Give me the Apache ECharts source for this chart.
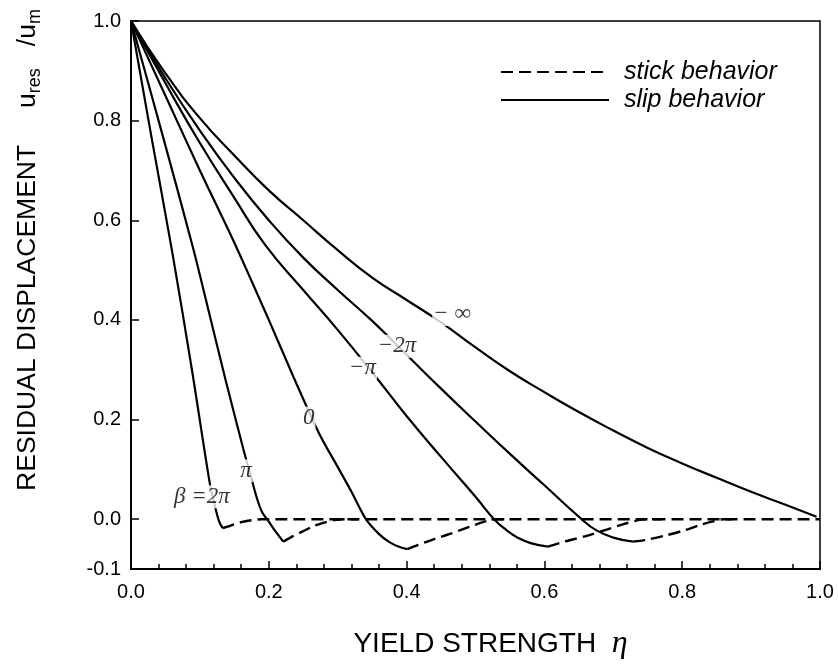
<!DOCTYPE html>
<html>
<head>
<meta charset="utf-8">
<script src="https://cdn.jsdelivr.net/npm/echarts@6/dist/echarts.min.js"></script>
<style>html,body{margin:0;padding:0;background:#fff}#c{width:838px;height:665px}</style>
</head>
<body>
<div id="c"></div>
<script>
// ---- data ----
const xTicks = [0.0, 0.2, 0.4, 0.6, 0.8, 1.0];
const yTicks = [-0.1, 0.0, 0.2, 0.4, 0.6, 0.8, 1.0];

// beta = 2pi
const slip2piX = [0, 0.03, 0.06, 0.089, 0.114, 0.122, 0.128, 0.133];
const slip2piY = [1, 0.765, 0.535, 0.295, 0.075, 0.025, -0.005, -0.018];
const stick2piX = [0.133, 0.14, 0.15, 0.16, 0.175, 0.19, 1.0];
const stick2piY = [-0.018, -0.015, -0.01, -0.006, -0.002, 0, 0];
// beta = pi
const slipPiX = [0, 0.045, 0.09, 0.115, 0.137, 0.163, 0.176, 0.183, 0.19, 0.2, 0.21, 0.221];
const slipPiY = [1, 0.775, 0.545, 0.405, 0.281, 0.141, 0.075, 0.041, 0.015, -0.005, -0.025, -0.045];
const stickPiX = [0.221, 0.235, 0.25, 0.265, 0.28, 0.295, 0.31, 0.33];
const stickPiY = [-0.045, -0.034, -0.024, -0.014, -0.007, -0.002, 0, 0];
// beta = 0
const slip0X = [0, 0.05, 0.1, 0.15, 0.2, 0.236, 0.273, 0.3, 0.32, 0.341, 0.36, 0.375, 0.39, 0.401];
const slip0Y = [1, 0.85, 0.70, 0.555, 0.40, 0.285, 0.172, 0.105, 0.055, 0.0, -0.03, -0.046, -0.056, -0.06];
const stick0X = [0.401, 0.416, 0.44, 0.464, 0.49, 0.513, 0.53, 0.55];
const stick0Y = [-0.06, -0.052, -0.04, -0.029, -0.016, -0.005, 0, 0];
// beta = -pi
const slipMPiX = [0, 0.05, 0.1, 0.15, 0.195, 0.25, 0.3, 0.358, 0.4, 0.45, 0.5, 0.527, 0.545, 0.561, 0.58, 0.605];
const slipMPiY = [1, 0.875, 0.755, 0.645, 0.55, 0.46, 0.38, 0.281, 0.207, 0.125, 0.045, 0.0, -0.022, -0.037, -0.048, -0.055];
const stickMPiX = [0.605, 0.629, 0.66, 0.688, 0.71, 0.736, 0.75, 0.77];
const stickMPiY = [-0.055, -0.045, -0.034, -0.022, -0.012, -0.002, 0, 0];
// beta = -2pi
const slipM2PiX = [0, 0.05, 0.1, 0.15, 0.2, 0.25, 0.3, 0.35, 0.4, 0.45, 0.5, 0.55, 0.6, 0.654, 0.675, 0.7, 0.729];
const slipM2PiY = [1, 0.885, 0.78, 0.685, 0.6, 0.525, 0.46, 0.398, 0.33, 0.262, 0.196, 0.131, 0.068, 0.0, -0.022, -0.037, -0.045];
const stickM2PiX = [0.729, 0.746, 0.775, 0.804, 0.825, 0.843, 0.86, 0.88];
const stickM2PiY = [-0.045, -0.042, -0.033, -0.022, -0.012, -0.005, 0, 0];
// beta = -infinity
const slipMInfX = [0, 0.05, 0.1, 0.15, 0.2, 0.25, 0.3, 0.35, 0.4, 0.45, 0.5, 0.55, 0.6, 0.65, 0.7, 0.75, 0.8, 0.85, 0.9, 0.95, 0.995];
const slipMInfY = [1, 0.895, 0.805, 0.73, 0.66, 0.6, 0.54, 0.485, 0.44, 0.395, 0.345, 0.297, 0.255, 0.215, 0.178, 0.143, 0.112, 0.083, 0.055, 0.029, 0.005];

// curve labels
const labelText = ['\u03B2 =2\u03C0', '\u03C0', '0', '\u2212\u03C0', '\u22122\u03C0', '\u2212 \u221E'];
const labelX = [0.103, 0.167, 0.258, 0.336, 0.386, 0.466];
const labelY = [0.045, 0.097, 0.203, 0.303, 0.347, 0.411];

const legendNames = ['stick behavior', 'slip behavior'];

// ---- build ----
const zip = (xs, ys) => xs.map((x, i) => [x, ys[i]]);
const slipLines = [[slip2piX, slip2piY], [slipPiX, slipPiY], [slip0X, slip0Y], [slipMPiX, slipMPiY], [slipM2PiX, slipM2PiY], [slipMInfX, slipMInfY]];
const stickLines = [[stick2piX, stick2piY], [stickPiX, stickPiY], [stick0X, stick0Y], [stickMPiX, stickMPiY], [stickM2PiX, stickM2PiY]];

const series = [];
stickLines.forEach(([xs, ys]) => series.push({
  name: legendNames[0], type: 'line', data: zip(xs, ys), symbol: 'none', smooth: 0.3,
  itemStyle: { color: '#000' },
  lineStyle: { color: '#000', width: 2.4, type: [12, 6] }, z: 2, silent: true
}));
slipLines.forEach(([xs, ys], i) => series.push({
  name: legendNames[1], type: 'line', data: zip(xs, ys), symbol: 'none', smooth: i >= 3 ? 0.5 : 0.3,
  itemStyle: { color: '#000' },
  lineStyle: { color: '#000', width: 2.2, type: 'solid' }, z: 3, silent: true
}));
series.push({
  name: 'labels', type: 'scatter', symbolSize: 0, z: 10, silent: true,
  data: labelX.map((x, i) => ({ value: [x, labelY[i]], name: labelText[i] })),
  label: {
    show: true, position: 'inside', formatter: p => p.name,
    fontFamily: 'Liberation Serif', fontStyle: 'italic', fontSize: 23, color: '#000',
    backgroundColor: '#fff', padding: [0, 1]
  }
});

const fmt = v => (Math.round(v * 10) / 10).toFixed(1);
const chart = echarts.init(document.getElementById('c'), null, { renderer: 'canvas' });
chart.setOption({
  animation: false,
  backgroundColor: '#fff',
  grid: { left: 131, right: 18, top: 21, bottom: 94, show: true, borderColor: '#000', borderWidth: 1.5, backgroundColor: 'transparent' },
  legend: {
    data: legendNames.map(n => ({ name: n })), orient: 'vertical', left: 500, top: 58, padding: 0,
    itemWidth: 108, itemHeight: 14, itemGap: 0, selectedMode: false,
    itemStyle: { color: 'rgba(0,0,0,0)', borderColor: 'rgba(0,0,0,0)', borderWidth: 0 },
    textStyle: { fontFamily: 'Liberation Sans', fontStyle: 'italic', fontSize: 25, lineHeight: 28, color: '#000', padding: [0, 0, 0, 10] }
  },
  xAxis: {
    type: 'value', min: 0, max: 1, interval: 0.2,
    name: '{a|YIELD STRENGTH  }{e|\u03B7}', nameLocation: 'middle', nameGap: 58,
    nameTextStyle: { padding: [0, 0, 0, 30], rich: {
      a: { fontFamily: 'Liberation Sans', fontSize: 28, lineHeight: 34, color: '#000' },
      e: { fontFamily: 'Liberation Serif', fontStyle: 'italic', fontSize: 32, lineHeight: 34, color: '#000' } } },
    axisLine: { onZero: false, lineStyle: { color: '#000', width: 2 } },
    axisTick: { inside: true, length: 8, lineStyle: { color: '#000', width: 1.5 } },
    minorTick: { show: true, splitNumber: 5, length: 5, lineStyle: { color: '#000', width: 1.5 } },
    splitLine: { show: false }, minorSplitLine: { show: false },
    axisLabel: { formatter: fmt, fontFamily: 'Liberation Sans', fontSize: 20, color: '#000', margin: 13 }
  },
  yAxis: {
    type: 'value', min: -0.1, max: 1.0,
    name: '{a|RESIDUAL DISPLACEMENT     u}{s|res}{a|   /u}{s|m}', nameLocation: 'middle', nameRotate: 90, nameGap: 88,
    nameTextStyle: { padding: [0, 0, 0, 90], rich: {
      a: { fontFamily: 'Liberation Sans', fontSize: 26.5, color: '#000', lineHeight: 30 },
      s: { fontFamily: 'Liberation Sans', fontSize: 18, color: '#000', lineHeight: 30, padding: [14, 0, 0, 0] } } },
    axisLine: { onZero: false, lineStyle: { color: '#000', width: 2 } },
    axisTick: { inside: true, length: 8, customValues: yTicks, lineStyle: { color: '#000', width: 1.5 } },
    splitLine: { show: false },
    axisLabel: { customValues: yTicks, formatter: fmt, fontFamily: 'Liberation Sans', fontSize: 20, color: '#000', margin: 10 }
  },
  series: series
});
</script>
</body>
</html>
